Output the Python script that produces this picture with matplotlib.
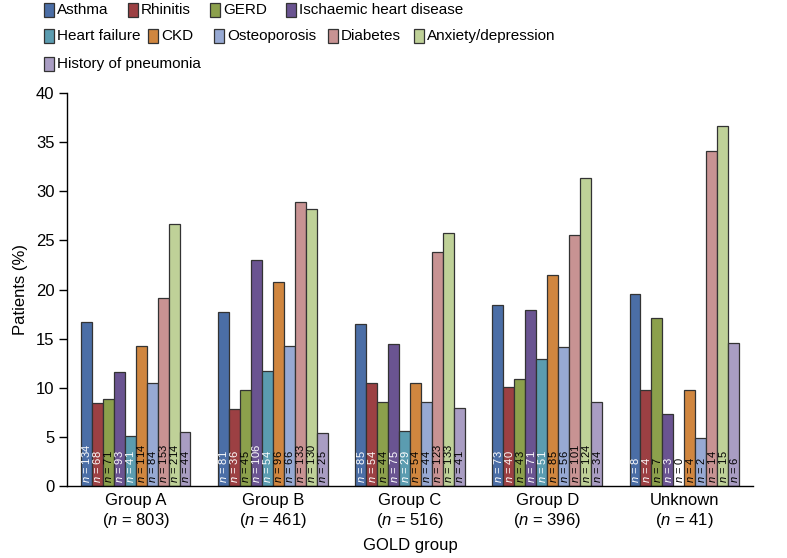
import matplotlib
matplotlib.use('Agg')
import matplotlib.pyplot as plt
from matplotlib.patches import Rectangle
import numpy as np

plt.rcParams['font.family'] = ['Liberation Sans', 'DejaVu Sans']
plt.rcParams['mathtext.fontset'] = 'custom'
plt.rcParams['mathtext.it'] = 'Liberation Sans:italic'
plt.rcParams['mathtext.rm'] = 'Liberation Sans'

# Data
groups = ['Group A', 'Group B', 'Group C', 'Group D', 'Unknown']
group_n = [803, 461, 516, 396, 41]
conditions = ['Asthma', 'Rhinitis', 'GERD', 'Ischaemic heart disease', 'Heart failure',
              'CKD', 'Osteoporosis', 'Diabetes', 'Anxiety/depression', 'History of pneumonia']
colors = ['#4b6ea6', '#9c4043', '#8ca04c', '#6a5491', '#5b9cb0',
          '#d0863f', '#97a9d3', '#c89393', '#bfd198', '#a99dc3']

# percentage of patients per group (rows) and condition (columns)
pct = [
    [16.7, 8.4, 8.9, 11.6, 5.1, 14.2, 10.5, 19.1, 26.7, 5.5],
    [17.7, 7.8, 9.8, 23.0, 11.7, 20.8, 14.3, 28.9, 28.2, 5.4],
    [16.5, 10.5, 8.5, 14.5, 5.6, 10.5, 8.5, 23.8, 25.8, 7.9],
    [18.4, 10.1, 10.9, 17.9, 12.9, 21.5, 14.1, 25.5, 31.3, 8.6],
    [19.5, 9.8, 17.1, 7.3, 0.0, 9.8, 4.9, 34.1, 36.6, 14.6],
]
counts = [
    [134, 68, 71, 93, 41, 114, 84, 153, 214, 44],
    [81, 36, 45, 106, 54, 96, 66, 133, 130, 25],
    [85, 54, 44, 75, 29, 54, 44, 123, 133, 41],
    [73, 40, 43, 71, 51, 85, 56, 101, 124, 34],
    [8, 4, 7, 3, 0, 4, 2, 14, 15, 6],
]
white_text = ['Asthma', 'Rhinitis', 'Ischaemic heart disease', 'Heart failure']

fig = plt.figure(figsize=(7.87, 5.58), dpi=100)
ax = fig.add_axes([67 / 787, 1 - 486 / 558, (753 - 67) / 787, (486 - 93) / 558])

spacing = 12.5
centers = np.arange(len(groups)) * spacing
for j, cond in enumerate(conditions):
    xs = centers + (j - 4.5)
    vals = [row[j] for row in pct]
    ax.bar(xs, vals, width=1.0, color=colors[j], edgecolor='#333333', linewidth=0.9, zorder=2)
    for k, x in enumerate(xs):
        n = counts[k][j]
        tc = 'white' if (cond in white_text and vals[k] > 0) else 'black'
        ax.text(x, 0.3, '$n$ = %d' % n, rotation=90, ha='center', va='bottom',
                fontsize=8, color=tc, zorder=3)

ax.set_xlim(-6.25, centers[-1] + 6.25)
ax.set_ylim(0, 40)
ax.set_yticks(range(0, 41, 5))
ax.set_xticks(centers)
ax.set_xticklabels(['%s\n($n$ = %d)' % (g, n) for g, n in zip(groups, group_n)], fontsize=12)
ax.tick_params(axis='x', length=0, pad=5)
ax.tick_params(axis='y', direction='out', length=6, width=1, labelsize=12, pad=3)
for s in ['top', 'right']:
    ax.spines[s].set_visible(False)
ax.spines['left'].set_linewidth(1)
ax.spines['bottom'].set_linewidth(1)
ax.set_ylabel('Patients (%)', fontsize=12, labelpad=6)
ax.set_xlabel('GOLD group', fontsize=12, labelpad=6)

# Legend laid out as in the original (flowing rows)
legend_pos = [(44, 10), (128, 10), (210, 10), (286, 10),
              (44, 36), (148, 36), (214, 36), (328, 36), (414, 36),
              (44, 64)]
for (px, py), cond, c in zip(legend_pos, conditions, colors):
    fig.patches.append(Rectangle((px / 787, 1 - (py + 7) / 558), 10 / 787, 14 / 558,
                                 transform=fig.transFigure, facecolor=c,
                                 edgecolor='#333333', linewidth=0.9))
    fig.text((px + 13) / 787, 1 - py / 558, cond, fontsize=11, va='center', ha='left',
             family=['Liberation Sans Narrow', 'Liberation Sans', 'DejaVu Sans'])

fig.savefig('out.png', dpi=100)
